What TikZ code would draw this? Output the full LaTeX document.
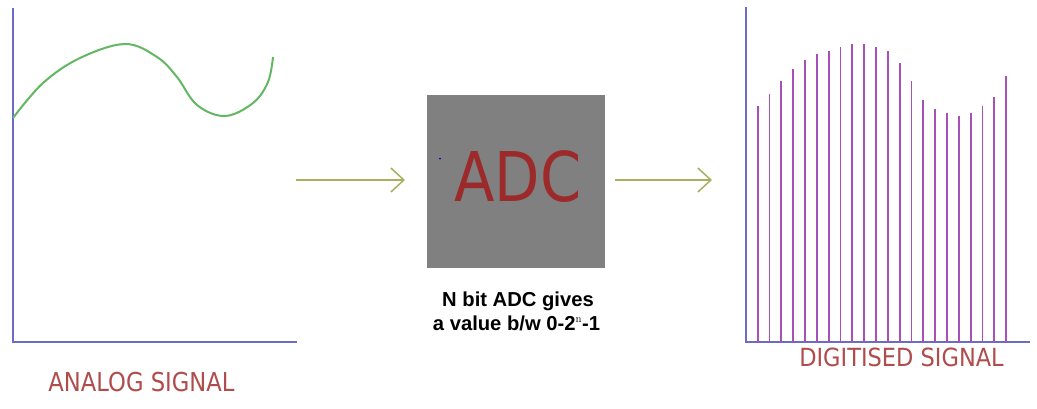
\documentclass[tikz,border=0pt]{standalone}
\usepackage{fontspec}
\usetikzlibrary{arrows.meta}
\newfontfamily\tahfont{DejaVu Sans}
\newfontfamily\arifont{Liberation Sans}
\definecolor{axiscol}{HTML}{6C6CC8}
\definecolor{curvecol}{HTML}{62B862}
\definecolor{barcol}{HTML}{A650B8}
\definecolor{arrowcol}{HTML}{A8B060}
\definecolor{boxcol}{HTML}{808080}
\definecolor{adccol}{HTML}{9C2A2A}
\definecolor{labcol}{HTML}{B04C4C}
\begin{document}
\begin{tikzpicture}[x=1pt,y=-1pt,
  axisline/.style={draw=axiscol,line width=1.6pt},
  barline/.style={draw=barcol,line width=1.8pt},
  flowarrow/.style={draw=arrowcol,line width=1.5pt,-{Straight Barb[length=13pt,width=24pt,line width=1.5pt]}},
  labeltext/.style={inner sep=0pt,text=labcol,font=\tahfont\fontsize{26}{28}\selectfont},
  notetext/.style={inner sep=0pt,font=\arifont\bfseries\fontsize{20.2}{23}\selectfont}]
\useasboundingbox[fill=white] (0,0) rectangle (1037,408);
% left axes
\coordinate (la) at (13,8);
\coordinate (lo) at (13,342);
\coordinate (lb) at (297,342);
\draw[axisline] (la) -- (lo) -- (lb);
% analog curve
\draw[curvecol,line width=2pt] plot[smooth,tension=0.6] coordinates
 {(13,118) (43,83) (80,58) (125,44) (157,57) (177,77) (197,105) (225,116) (253,103) (268,82) (273,57)};
% right axes
\coordinate (ra) at (746,7);
\coordinate (ro) at (746,342);
\coordinate (rb) at (1030,342);
\draw[axisline] (ra) -- (ro) -- (rb);
% bars
\foreach \t [count=\i from 0] in {106,94,81.3,69,60,53.7,50.7,47.3,44.3,44.3,47.3,50.7,63,81.3,100,109.3,112.7,115.7,112.7,106,96.7,75.7}{
  \draw[barline] ({757.7+\i*11.83},342) -- ({757.7+\i*11.83},\t);
}
% ADC box
\node[draw=none,fill=boxcol,minimum width=178pt,minimum height=173pt,inner sep=0pt] (adc) at (516,181) {};
\node[inner sep=0pt,anchor=base,text=adccol] (adct) at (518,201.7) {\scalebox{0.86}[1]{\tahfont\fontsize{68.6}{70}\selectfont ADC}};
\fill[blue!70!black] (440,158.7) circle (1pt);
% arrows
\coordinate (a1s) at (296,180);
\coordinate (a1e) at (405,180);
\coordinate (a2s) at (615,180);
\coordinate (a2e) at (712,180);
\draw[flowarrow] (a1s) -- (a1e);
\draw[flowarrow] (a2s) -- (a2e);
% note
\node[notetext,anchor=base] (n1) at (518,306.7) {N bit ADC gives};
\node[notetext,anchor=base] (n2) at (516.5,330) {a value b/w 0-2\textsuperscript{\normalfont\fontsize{11}{12}\selectfont n}-1};
% labels
\node[labeltext,anchor=base] (anl) at (141.5,391.7) {\scalebox{0.872}[1]{ANALOG SIGNAL}};
\node[labeltext,anchor=base,font=\tahfont\fontsize{25}{27}\selectfont] (dgl) at (901.5,366) {\scalebox{0.9}[1]{DIGITISED SIGNAL}};
\end{tikzpicture}
\end{document}
